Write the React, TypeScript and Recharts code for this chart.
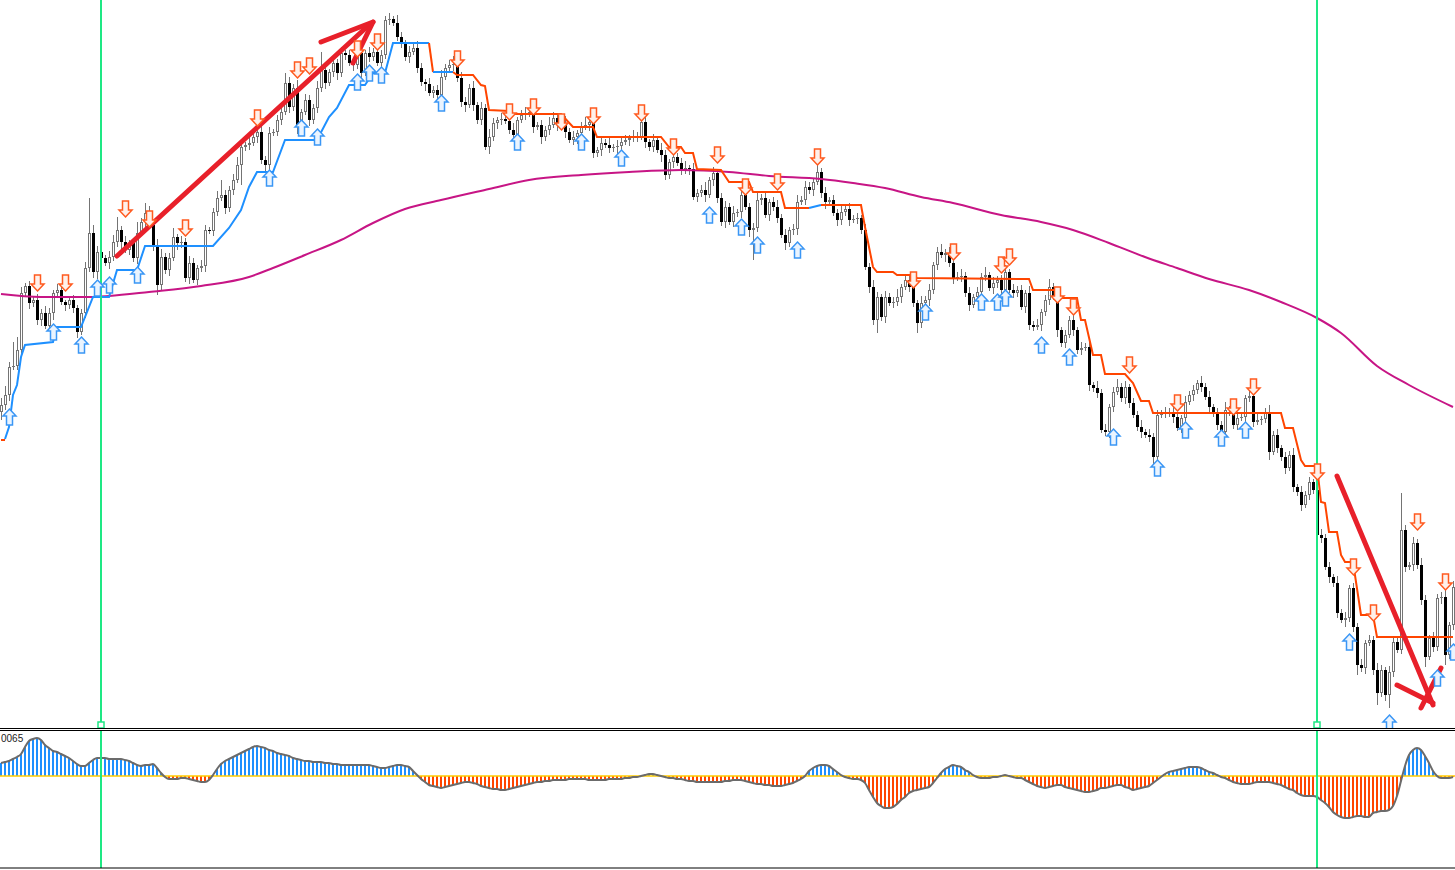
import React from 'react';
import { ComposedChart, Bar, Line, XAxis, YAxis, ReferenceLine, ReferenceDot, Cell } from 'recharts';

// Closing prices, one per bar (chart points)
const closes = [
  325, 335, 363, 364, 380, 437, 444, 427, 430, 410,
  417, 404, 417, 437, 440, 428, 425, 430, 422, 398,
  417, 462, 497, 458, 478, 472, 467, 473, 488, 500,
  488, 480, 487, 472, 497, 508, 517, 505, 485, 445,
  473, 460, 472, 493, 487, 488, 452, 467, 450, 462,
  464, 500, 499, 518, 532, 535, 522, 540, 550, 565,
  583, 585, 587, 593, 598, 570, 565, 597, 598, 610,
  618, 647, 623, 642, 603, 618, 630, 610, 622, 642,
  660, 647, 658, 667, 657, 677, 675, 667, 665, 677,
  657, 677, 673, 678, 667, 675, 710, 711, 707, 693,
  687, 673, 678, 682, 662, 648, 646, 637, 640, 635,
  653, 662, 665, 666, 652, 628, 625, 642, 625, 610,
  622, 583, 593, 607, 610, 611, 609, 600, 595, 610,
  615, 617, 618, 603, 605, 593, 600, 605, 612, 605,
  607, 598, 590, 593, 597, 603, 605, 608, 577, 580,
  587, 585, 582, 583, 584, 588, 590, 592, 594, 593,
  608, 588, 583, 590, 580, 575, 555, 568, 573, 567,
  560, 562, 561, 533, 537, 540, 535, 550, 557, 532,
  508, 523, 508, 517, 518, 535, 523, 500, 502, 530,
  532, 515, 528, 523, 512, 495, 487, 500, 501, 528,
  530, 543, 540, 548, 558, 537, 528, 530, 517, 510,
  518, 521, 510, 511, 512, 500, 463, 443, 410, 433,
  413, 433, 427, 428, 433, 443, 450, 443, 427, 407,
  427, 430, 440, 465, 478, 475, 477, 467, 452, 453,
  454, 437, 425, 433, 438, 453, 455, 442, 447, 450,
  440, 458, 440, 437, 440, 423, 437, 405, 403, 405,
  418, 430, 443, 433, 400, 387, 395, 410, 400, 380,
  382, 383, 345, 342, 337, 300, 298, 323, 338, 343,
  332, 343, 327, 315, 303, 298, 295, 293, 273, 315,
  317, 317, 318, 313, 302, 312, 328, 335, 340, 347,
  343, 333, 323, 317, 305, 298, 320, 321, 305, 312,
  313, 332, 334, 308, 310, 311, 317, 278, 295, 282,
  273, 262, 275, 243, 238, 225, 235, 248, 240, 195,
  192, 163, 153, 147, 117, 110, 112, 142, 103, 65,
  62, 87, 90, 60, 37, 60, 35, 58, 88, 80,
  200, 163, 165, 187, 165, 130, 73, 92, 83, 132,
  133, 75, 105, 143,
];
const firstOpen = 318;

// how far the high / low reach beyond the body
const wickUp = [
  7, 9, 5, 24, 13, 6, 3, 5, 4, 6,
  4, 7, 5, 3, 6, 5, 2, 4, 5, 3,
  4, 6, 35, 8, 6, 5, 3, 6, 7, 13,
  4, 6, 3, 5, 11, 4, 10, 7, 3, 6,
  8, 4, 5, 9, 3, 6, 4, 7, 5, 3,
  6, 5, 3, 4, 7, 15, 5, 4, 6, 8,
  5, 3, 6, 4, 5, 9, 4, 6, 3, 5,
  7, 10, 6, 4, 8, 3, 6, 5, 4, 7,
  18, 5, 3, 7, 4, 6, 3, 5, 4, 7,
  5, 3, 6, 4, 8, 5, 4, 6, 3, 8,
  5, 3, 6, 4, 7, 5, 3, 6, 4, 5,
  7, 4, 5, 8, 3, 6, 5, 4, 7, 3,
  6, 4, 8, 5, 3, 6, 4, 5, 7, 3,
  5, 6, 4, 7, 3, 5, 4, 8, 6, 3,
  5, 7, 4, 6, 3, 5, 8, 4, 6, 3,
  5, 4, 7, 3, 6, 4, 5, 3, 6, 4,
  9, 5, 3, 6, 4, 7, 5, 3, 6, 4,
  5, 7, 3, 6, 4, 5, 8, 3, 6, 4,
  5, 6, 4, 7, 3, 5, 6, 4, 5, 8,
  4, 6, 3, 5, 7, 4, 6, 3, 5, 7,
  4, 6, 5, 3, 7, 4, 6, 3, 5, 4,
  7, 3, 6, 4, 5, 3, 6, 4, 7, 5,
  3, 6, 4, 5, 8, 3, 6, 4, 5, 3,
  7, 4, 6, 3, 5, 8, 4, 6, 3, 5,
  7, 4, 6, 3, 5, 4, 8, 3, 6, 4,
  5, 7, 3, 6, 4, 5, 3, 7, 4, 6,
  3, 5, 8, 4, 6, 3, 5, 4, 7, 3,
  6, 4, 5, 3, 7, 4, 6, 3, 5, 8,
  4, 6, 3, 5, 4, 7, 3, 6, 4, 5,
  3, 6, 4, 7, 5, 3, 6, 4, 5, 3,
  7, 4, 6, 3, 5, 4, 8, 3, 6, 4,
  5, 3, 7, 4, 6, 3, 5, 8, 4, 6,
  3, 5, 4, 7, 3, 6, 4, 5, 3, 8,
  6, 4, 5, 3, 7, 4, 6, 3, 5, 4,
  6, 3, 5, 4, 7, 5, 3, 6, 4, 5,
  37, 5, 3, 6, 4, 7, 5, 3, 6, 4,
  5, 7, 3, 6,
];
const wickDn = [
  8, 5, 6, 3, 4, 5, 3, 6, 4, 5,
  6, 3, 5, 7, 4, 3, 6, 4, 5, 6,
  3, 5, 4, 6, 7, 5, 3, 6, 4, 5,
  7, 3, 5, 4, 6, 3, 5, 4, 6, 10,
  5, 4, 6, 3, 7, 5, 4, 6, 3, 5,
  4, 6, 3, 5, 4, 3, 6, 4, 5, 3,
  20, 4, 5, 3, 6, 4, 8, 5, 3, 4,
  5, 3, 6, 4, 7, 5, 3, 6, 4, 5,
  4, 6, 3, 5, 7, 4, 5, 3, 6, 4,
  6, 3, 5, 4, 3, 6, 4, 5, 3, 4,
  5, 4, 6, 3, 5, 4, 7, 3, 5, 6,
  4, 3, 5, 6, 4, 5, 7, 3, 6, 4,
  5, 3, 7, 4, 6, 5, 3, 4, 6, 8,
  3, 5, 4, 6, 3, 7, 4, 5, 3, 6,
  4, 6, 3, 5, 7, 4, 3, 6, 5, 4,
  6, 3, 5, 4, 7, 5, 3, 6, 4, 5,
  3, 6, 4, 5, 3, 7, 5, 4, 6, 3,
  5, 4, 6, 3, 5, 4, 7, 3, 6, 5,
  4, 6, 3, 5, 4, 6, 3, 7, 30, 4,
  5, 3, 6, 4, 5, 3, 7, 4, 5, 6,
  3, 5, 4, 6, 3, 5, 7, 4, 3, 6,
  5, 4, 6, 3, 5, 4, 3, 6, 5, 13,
  4, 6, 3, 5, 4, 6, 3, 5, 4, 10,
  5, 3, 6, 4, 5, 3, 7, 4, 6, 3,
  5, 4, 6, 3, 5, 7, 4, 3, 6, 5,
  4, 6, 3, 5, 4, 3, 6, 5, 4, 3,
  6, 4, 5, 3, 7, 4, 5, 3, 6, 4,
  5, 3, 6, 4, 5, 3, 4, 6, 5, 3,
  4, 6, 5, 3, 4, 6, 3, 5, 8, 5,
  3, 5, 4, 6, 3, 5, 4, 3, 6, 4,
  5, 3, 6, 4, 5, 4, 3, 6, 4, 5,
  3, 6, 4, 5, 3, 5, 4, 8, 3, 5,
  4, 6, 3, 5, 4, 6, 3, 5, 4, 8,
  5, 3, 6, 4, 5, 3, 7, 4, 5, 10,
  4, 6, 3, 5, 12, 4, 6, 13, 5, 3,
  4, 5, 3, 6, 4, 5, 10, 3, 5, 4,
  6, 10, 4, 5,
];

// slow moving average, read at [bar, value]
const maPoints: [number, number][] = [
  [0, 436], [10, 433], [22, 433], [27, 434], [37, 438], [50, 444], [62, 453], [68, 462],
  [76, 475], [85, 490], [93, 507], [101, 521], [110, 530], [122, 541], [132, 550], [145, 555],
  [157, 558], [170, 560], [182, 558], [192, 554], [205, 551], [213, 547], [221, 542], [230, 533],
  [238, 527], [250, 515], [260, 508], [268, 500], [277, 487], [286, 473], [294, 462], [302, 451],
  [312, 440], [320, 428], [329, 412], [335, 397], [344, 364], [352, 345], [363, 323],
];

// trailing stop, split into runs below price (up) and above price (dn)
const stopRuns: { side: 'up' | 'dn'; pts: [number, number][] }[] = [
  { side: 'dn', pts: [[0, 290], [1, 290]] },
  {
    side: 'up',
    pts: [[1, 291], [2, 303], [3, 335], [4, 345], [5, 373], [6, 385], [13, 388], [14, 403], [20, 403],
      [23, 433], [27, 433], [29, 460], [34, 460], [36, 484], [53, 484], [57, 502], [60, 520], [62, 543],
      [64, 558], [68, 558], [71, 590], [79, 590], [82, 613], [84, 622], [87, 645], [91, 645], [93, 657],
      [96, 657], [98, 687], [107, 687]],
  },
  { side: 'dn', pts: [[107, 687], [108, 658]] },
  { side: 'up', pts: [[108, 658], [113, 658]] },
  {
    side: 'dn',
    pts: [[113, 658], [114, 655], [118, 655], [120, 645], [121, 644], [122, 620], [127, 619], [128, 616],
      [140, 616], [143, 603], [148, 603], [149, 593], [165, 593], [167, 583], [170, 583], [171, 577],
      [173, 577], [174, 561], [180, 560], [182, 548], [187, 548], [188, 538], [195, 538], [196, 522], [202, 522]],
  },
  { side: 'up', pts: [[202, 522], [204, 524], [205, 525]] },
  {
    side: 'dn',
    pts: [[205, 525], [215, 525], [216, 503], [218, 463], [219, 458], [223, 458], [224, 455], [228, 455],
      [229, 452], [257, 451], [258, 440], [264, 440], [265, 432], [269, 432], [270, 410], [271, 410],
      [273, 375], [275, 375], [276, 356], [281, 356], [283, 347], [285, 329], [287, 329], [288, 317],
      [320, 317], [321, 302], [323, 302], [325, 270], [326, 264], [329, 264], [330, 228], [331, 227],
      [332, 198], [334, 198], [335, 175], [336, 168], [338, 168], [340, 115], [343, 115], [344, 93], [363, 93]],
  },
];

// signal arrows [bar, level]
const buySignals: [number, number][] = [
  [2, 313], [13, 398], [20, 385], [24, 442], [27, 445], [34, 455], [67, 552], [75, 602], [79, 593],
  [89, 648], [92, 657], [95, 655], [110, 627], [129, 588], [145, 588], [155, 572], [177, 515], [185, 503],
  [189, 485], [199, 480], [231, 418], [245, 428], [249, 428], [251, 432], [260, 385], [267, 373], [278, 293],
  [289, 262], [296, 300], [305, 292], [311, 300], [337, 88], [347, 7], [359, 52], [363, 78],
];
const sellSignals: [number, number][] = [
  [9, 447], [16, 447], [31, 521], [37, 511], [46, 502], [64, 612], [74, 660], [77, 664], [89, 681],
  [94, 688], [114, 671], [127, 618], [133, 623], [140, 608], [148, 614], [160, 617], [168, 583], [179, 575],
  [186, 543], [194, 548], [204, 573], [228, 450], [238, 478], [250, 465], [252, 473], [264, 435], [268, 423],
  [282, 365], [294, 327], [308, 323], [313, 343], [329, 258], [338, 163], [343, 117], [354, 208], [361, 148],
];

// oscillator histogram in the lower pane
const oscillator = [
  13, 14, 15, 17, 19, 22, 29, 35, 37, 38,
  36, 31, 28, 25, 24, 22, 20, 18, 15, 12,
  10, 10, 13, 16, 18, 18, 18, 17, 17, 17,
  17, 16, 15, 13, 11, 10, 11, 11, 12, 8,
  3, -1, -3, -3, -3, -2, -2, -3, -4, -5,
  -6, -6, -4, 1, 7, 12, 15, 17, 19, 21,
  23, 25, 27, 29, 30, 29, 28, 26, 25, 23,
  22, 21, 20, 18, 17, 16, 15, 15, 14, 14,
  14, 13, 13, 12, 12, 11, 11, 11, 11, 11,
  11, 11, 11, 10, 9, 8, 8, 9, 10, 11,
  11, 10, 9, 5, 1, -3, -6, -9, -10, -11,
  -12, -11, -10, -9, -8, -7, -6, -6, -7, -8,
  -10, -11, -12, -13, -13, -14, -14, -13, -12, -11,
  -10, -9, -8, -7, -6, -6, -5, -5, -4, -4,
  -4, -4, -3, -3, -3, -3, -3, -4, -4, -4,
  -4, -4, -3, -3, -3, -3, -2, -2, -1, -1,
  0, 1, 2, 2, 1, 0, -1, -2, -2, -3,
  -3, -4, -5, -5, -6, -6, -6, -6, -6, -6,
  -6, -5, -5, -4, -4, -4, -5, -6, -7, -8,
  -8, -9, -9, -10, -10, -10, -9, -8, -7, -5,
  -3, 0, 5, 8, 10, 11, 11, 10, 7, 4,
  1, -1, -2, -3, -3, -4, -7, -14, -21, -27,
  -30, -32, -32, -31, -28, -24, -21, -17, -15, -14,
  -13, -12, -11, -7, -2, 3, 7, 9, 11, 10,
  9, 6, 4, 1, -1, -2, -2, -2, -1, -1,
  0, 1, 0, -1, -2, -2, -4, -6, -8, -10,
  -11, -12, -11, -10, -9, -9, -11, -12, -13, -14,
  -15, -16, -16, -15, -14, -12, -12, -11, -10, -9,
  -9, -11, -12, -14, -13, -12, -11, -10, -7, -4,
  -1, 2, 4, 5, 6, 7, 8, 9, 9, 9,
  8, 6, 4, 3, 1, -1, -2, -4, -6, -7,
  -8, -8, -8, -7, -6, -6, -6, -6, -7, -8,
  -9, -11, -13, -14, -17, -19, -20, -20, -20, -21,
  -24, -27, -31, -36, -39, -41, -42, -42, -41, -40,
  -40, -41, -41, -37, -36, -35, -35, -34, -30, -20,
  -5, 10, 21, 26, 28, 26, 20, 13, 5, 0,
  -2, -2, -2, -1,
];

// session separators and the hand drawn trend marks
const sessionBars = [25, 329];
const trendStrokes: [number, number, number, number][] = [
  [29, 474, 92, 705],
  [80, 688, 93, 708],
  [88, 667, 93, 708],
  [334, 254, 358, 25],
  [349, 45, 358, 27],
  [360, 62, 355, 22],
];

const GREEN = '#1ee884';
const BLUE = '#1e90ff';
const ORANGE = '#ff4500';
const RED = '#e8202a';

const rows: Record<string, any>[] = closes.map((close, i) => {
  const open = i === 0 ? firstOpen : closes[i - 1];
  const high = Math.max(open, close) + wickUp[i];
  const low = Math.min(open, close) - wickDn[i];
  return { i, open, close, range: [low, high], osc: oscillator[i] };
});
maPoints.forEach(([i, v]) => (rows[i].ma = v));
stopRuns.forEach((run, k) => run.pts.forEach(([i, v]) => (rows[i][`stop${k}`] = v)));
buySignals.forEach(([i, v]) => (rows[i].buy = v));
sellSignals.forEach(([i, v]) => (rows[i].sell = v));

const oscTicks = closes.map((_, i) => i).filter((i) => i % 16 === 1);

function Candle(props: any) {
  const { x, y, width, height, payload } = props;
  const [low, high] = payload.range;
  const k = high > low ? height / (high - low) : 0;
  const yOf = (v: number) => y + (high - v) * k;
  const c = Math.floor(x + width / 2);
  const top = Math.round(yOf(Math.max(payload.open, payload.close)));
  const bot = Math.round(yOf(Math.min(payload.open, payload.close)));
  const bull = payload.close > payload.open;
  return (
    <g>
      <line x1={c + 0.5} x2={c + 0.5} y1={yOf(high)} y2={yOf(low)} stroke="#747474" strokeWidth={1} />
      {bot - top > 1 ? (
        <rect
          x={c - 0.5}
          y={top + 0.5}
          width={2}
          height={bot - top - 1}
          fill={bull ? '#ffffff' : '#000000'}
          stroke={bull ? '#747474' : '#000000'}
          strokeWidth={1}
        />
      ) : (
        <line x1={c - 1} x2={c + 2} y1={top + 0.5} y2={top + 0.5} stroke={bull ? '#747474' : '#000000'} />
      )}
    </g>
  );
}

const arrowDot = (dir: 'up' | 'down') => (props: any) => {
  const { cx, cy, value, index } = props;
  const key = `${dir}${index}`;
  if (cx == null || cy == null || value == null) return <g key={key} />;
  const x = Math.floor(cx) + 0.5;
  const s = dir === 'up' ? 1 : -1;
  const d = `M${x} ${cy - 8 * s} L${x + 6.5} ${cy - s} L${x + 3} ${cy - s} L${x + 3} ${cy + 8 * s} L${x - 3} ${cy + 8 * s} L${x - 3} ${cy - s} L${x - 6.5} ${cy - s} Z`;
  return (
    <path
      key={key}
      d={d}
      fill={dir === 'up' ? '#eaf4ff' : '#fff0ea'}
      stroke={dir === 'up' ? '#3a96f5' : '#ff5a1f'}
      strokeWidth={1.5}
      strokeLinejoin="miter"
    />
  );
};

export default function App() {
  return (
    <div style={{ position: 'absolute', left: 0, top: 0, width: 1455, height: 870, overflow: 'hidden', background: '#fff' }}>
      <div style={{ position: 'absolute', left: -1, top: 0 }}>
        <ComposedChart width={1456} height={728} data={rows} margin={{ top: 0, right: 0, bottom: 0, left: 0 }}>
          <XAxis dataKey="i" hide />
          <YAxis hide type="number" domain={[2, 730]} allowDataOverflow />
          <Bar dataKey="range" barSize={3} shape={(p: any) => <Candle {...p} />} isAnimationActive={false} />
          <Line dataKey="ma" type="monotone" stroke="#c71585" strokeWidth={2} dot={false} activeDot={false} connectNulls isAnimationActive={false} />
          {stopRuns.map((run, k) => (
            <Line
              key={k}
              dataKey={`stop${k}`}
              type="linear"
              stroke={run.side === 'up' ? BLUE : ORANGE}
              strokeWidth={2}
              dot={false}
              activeDot={false}
              connectNulls
              isAnimationActive={false}
            />
          ))}
          <Line dataKey="buy" stroke="none" dot={arrowDot('up')} activeDot={false} isAnimationActive={false} />
          <Line dataKey="sell" stroke="none" dot={arrowDot('down')} activeDot={false} isAnimationActive={false} />
          {sessionBars.map((b) => (
            <ReferenceLine key={b} x={b} stroke={GREEN} strokeWidth={2} />
          ))}
          {sessionBars.map((b) => (
            <ReferenceDot
              key={`sq${b}`}
              x={b}
              y={5}
              r={3}
              shape={(p: any) => (
                <rect x={p.cx - 3} y={p.cy - 3} width={6} height={6} fill="#fff" stroke={GREEN} strokeWidth={1.5} />
              )}
            />
          ))}
          {trendStrokes.map(([x1, y1, x2, y2], k) => (
            <ReferenceLine
              key={`t${k}`}
              segment={[{ x: x1, y: y1 }, { x: x2, y: y2 }]}
              stroke={RED}
              strokeWidth={5}
              strokeLinecap="round"
              ifOverflow="visible"
            />
          ))}
        </ComposedChart>
      </div>
      <div style={{ position: 'absolute', left: 0, top: 728, width: 1455, height: 1, background: '#000' }} />
      <div style={{ position: 'absolute', left: 0, top: 730, width: 1455, height: 1, background: '#000' }} />
      <div style={{ position: 'absolute', left: -1, top: 731 }}>
        <ComposedChart width={1456} height={139} data={rows} margin={{ top: 0, right: 0, bottom: 0, left: 0 }}>
          <XAxis
            dataKey="i"
            height={2}
            tickSize={2}
            tick={false}
            ticks={oscTicks}
            interval={0}
            axisLine={{ stroke: '#000' }}
            tickLine={{ stroke: '#000' }}
          />
          <YAxis hide type="number" domain={[-92, 45]} allowDataOverflow />
          <Bar dataKey="osc" barSize={2} isAnimationActive={false}>
            {oscillator.map((v, i) => (
              <Cell key={i} fill={v >= 0 ? BLUE : ORANGE} />
            ))}
          </Bar>
          <ReferenceLine y={0} stroke="#ffcc00" strokeWidth={1.5} />
          <Line dataKey="osc" type="monotone" stroke="#6b6b6b" strokeWidth={2} dot={false} activeDot={false} isAnimationActive={false} />
          {sessionBars.map((b) => (
            <ReferenceLine key={b} x={b} stroke={GREEN} strokeWidth={2} />
          ))}
        </ComposedChart>
      </div>
      <div
        style={{
          position: 'absolute',
          left: 1,
          top: 733,
          fontFamily: '"Liberation Sans", Arial, sans-serif',
          fontSize: 10,
          lineHeight: '12px',
          color: '#222',
        }}
      >
        0065
      </div>
    </div>
  );
}
